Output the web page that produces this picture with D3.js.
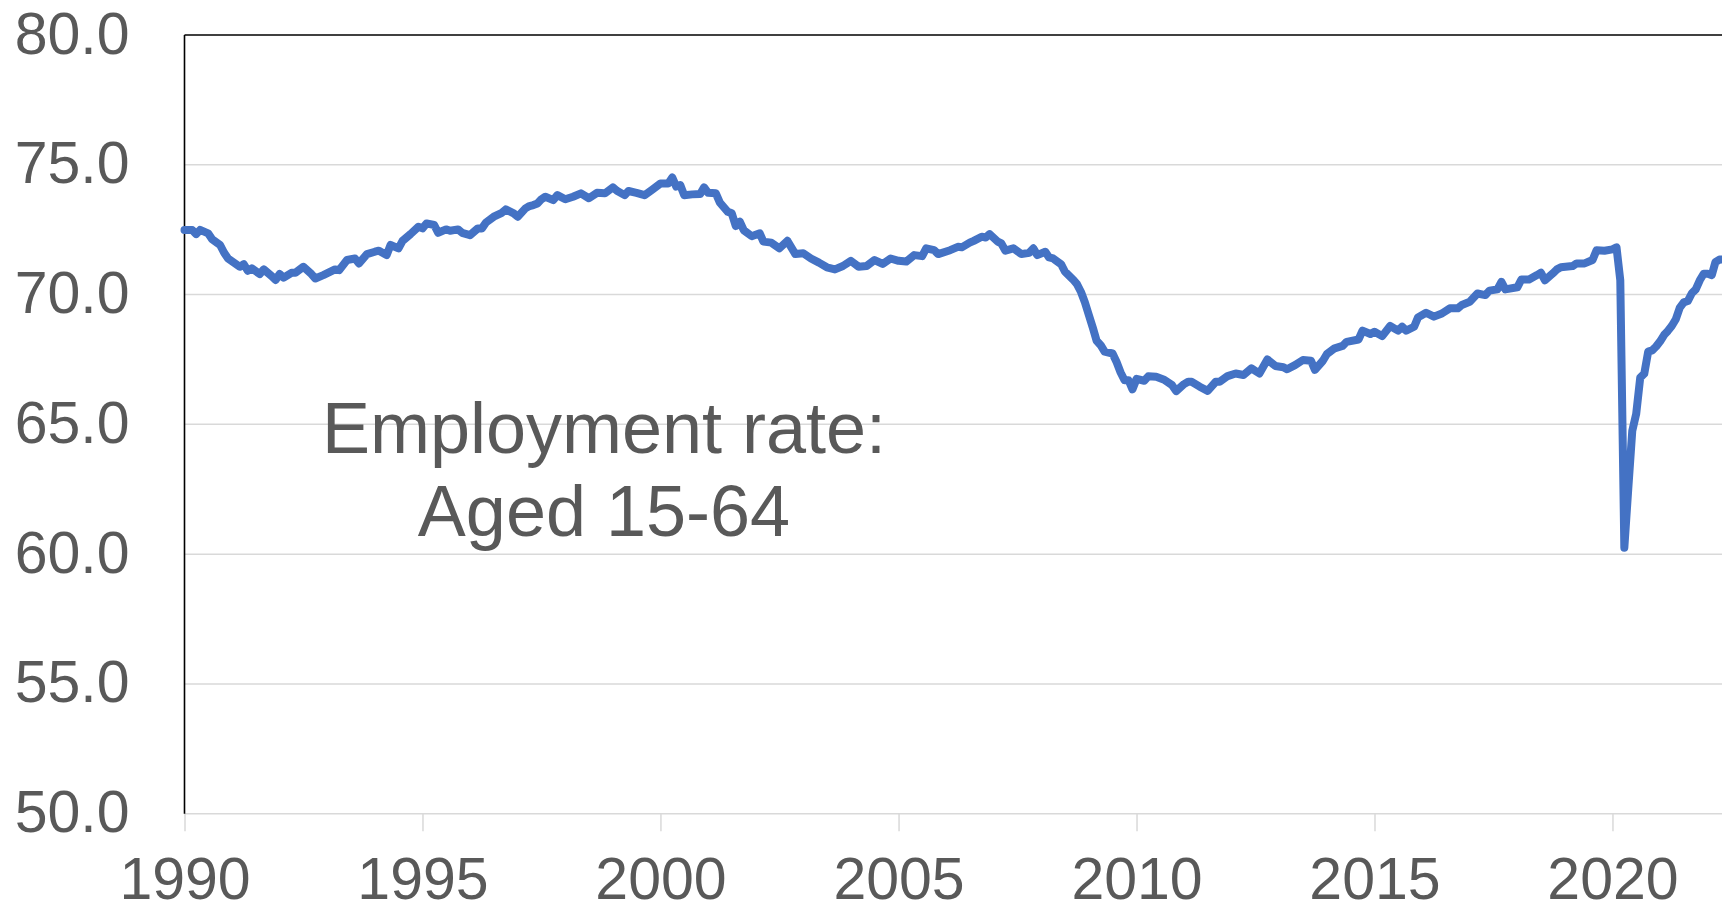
<!DOCTYPE html>
<html>
<head>
<meta charset="utf-8">
<script src="https://cdn.jsdelivr.net/npm/d3@7"></script>
<style>
  html, body { margin: 0; padding: 0; background: #ffffff; overflow: hidden; }
  svg { display: block; font-family: "Liberation Sans", Arial, sans-serif; }
</style>
</head>
<body>
<svg id="chart" width="1722" height="912"></svg>
<script>
// Monthly employment rate, persons aged 15-64 (%)
const months = [
  "1990-01","1990-03","1990-04","1990-05","1990-07","1990-08","1990-10","1990-11","1990-12",
  "1991-03","1991-04","1991-05","1991-06","1991-08","1991-09","1991-11","1991-12",
  "1992-01","1992-02","1992-04","1992-05","1992-07","1992-09","1992-10","1992-12",
  "1993-03","1993-04","1993-06","1993-08","1993-09","1993-11",
  "1994-01","1994-02","1994-04","1994-05","1994-07","1994-08","1994-10","1994-12",
  "1995-01","1995-02","1995-04","1995-05","1995-07","1995-08","1995-10","1995-11",
  "1996-01","1996-03","1996-04","1996-05","1996-07","1996-09","1996-10","1996-12",
  "1997-01","1997-03","1997-04","1997-05","1997-06","1997-07","1997-08","1997-10","1997-11",
  "1998-01","1998-03","1998-05","1998-07","1998-09","1998-11",
  "1999-01","1999-02","1999-04","1999-05","1999-07","1999-09","1999-11",
  "2000-01","2000-03","2000-04","2000-05","2000-06","2000-07","2000-09","2000-11","2000-12",
  "2001-01","2001-03","2001-04","2001-06","2001-07","2001-08","2001-09","2001-10","2001-12",
  "2002-02","2002-03","2002-05","2002-07","2002-09","2002-11",
  "2003-01","2003-03","2003-05","2003-07","2003-09","2003-11",
  "2004-01","2004-03","2004-05","2004-07","2004-09","2004-11",
  "2005-01","2005-03","2005-05","2005-07","2005-08","2005-10","2005-11",
  "2006-02","2006-04","2006-05","2006-07","2006-08","2006-10","2006-11","2006-12",
  "2007-02","2007-03","2007-04","2007-06","2007-08","2007-10","2007-11","2007-12",
  "2008-02","2008-03","2008-04","2008-06","2008-07","2008-09","2008-10","2008-11","2008-12",
  "2009-01","2009-02","2009-03","2009-04","2009-05","2009-07","2009-08","2009-09","2009-10","2009-11","2009-12",
  "2010-01","2010-03","2010-04","2010-06","2010-08","2010-10","2010-11",
  "2011-01","2011-02","2011-03","2011-05","2011-07","2011-09","2011-10","2011-12",
  "2012-02","2012-04","2012-06","2012-08","2012-10","2012-12",
  "2013-02","2013-03","2013-05","2013-07","2013-09","2013-10","2013-12",
  "2014-01","2014-03","2014-05","2014-06","2014-09","2014-10","2014-12",
  "2015-01","2015-03","2015-05","2015-07","2015-08","2015-09","2015-11","2015-12",
  "2016-02","2016-04","2016-06","2016-08","2016-10","2016-11",
  "2017-01","2017-03","2017-05","2017-06","2017-08","2017-09","2017-10",
  "2018-01","2018-02","2018-04","2018-06","2018-07","2018-08","2018-10","2018-11","2018-12",
  "2019-03","2019-04","2019-06","2019-08","2019-09","2019-11",
  "2020-01","2020-02","2020-03","2020-04","2020-05","2020-06","2020-07","2020-08","2020-09","2020-10","2020-11","2020-12",
  "2021-01","2021-02","2021-03","2021-04","2021-05","2021-06","2021-07","2021-08","2021-09","2021-10","2021-11","2021-12",
  "2022-01","2022-02","2022-03","2022-04","2022-05"
];

const rate = [
  72.49,72.49,72.33,72.49,72.36,72.13,71.91,71.61,71.39,
  71.07,71.17,70.92,71.01,70.79,70.97,70.71,70.56,
  70.79,70.65,70.84,70.84,71.07,70.79,70.62,70.75,
  70.97,70.94,71.33,71.39,71.20,71.56,
  71.65,71.69,71.52,71.91,71.78,72.07,72.33,72.61,
  72.55,72.74,72.68,72.38,72.51,72.46,72.51,72.38,
  72.29,72.55,72.55,72.77,73.00,73.15,73.28,73.13,
  73.00,73.32,73.41,73.45,73.51,73.67,73.77,73.64,73.83,
  73.67,73.77,73.90,73.71,73.92,73.90,
  74.13,74.00,73.83,73.99,73.92,73.83,74.05,
  74.28,74.28,74.51,74.16,74.22,73.83,73.86,73.87,74.13,
  73.92,73.90,73.54,73.19,73.13,72.64,72.81,72.48,72.25,
  72.36,72.04,72.00,71.78,72.07,71.56,
  71.59,71.39,71.23,71.05,70.97,71.10,
  71.30,71.07,71.10,71.33,71.18,71.39,
  71.30,71.27,71.52,71.48,71.78,71.71,71.56,
  71.71,71.84,71.82,72.00,72.07,72.23,72.20,72.33,
  72.04,71.97,71.69,71.78,71.56,71.61,71.78,71.52,
  71.65,71.43,71.39,71.17,70.88,70.58,70.40,70.10,69.70,
  69.20,68.70,68.22,68.05,67.80,67.73,67.40,67.00,66.70,66.70,66.35,
  66.75,66.68,66.85,66.83,66.72,66.51,66.28,
  66.55,66.64,66.64,66.45,66.29,66.64,66.64,66.86,
  66.96,66.90,67.16,66.96,67.50,67.25,
  67.20,67.12,67.28,67.48,67.45,67.10,67.45,
  67.71,67.93,68.02,68.18,68.27,68.61,68.48,
  68.57,68.40,68.79,68.61,68.76,68.61,68.76,69.12,
  69.30,69.15,69.27,69.47,69.47,69.60,
  69.72,70.04,69.98,70.15,70.20,70.49,70.20,
  70.28,70.58,70.58,70.75,70.84,70.55,70.82,70.97,71.05,
  71.10,71.20,71.20,71.33,71.71,71.69,
  71.74,71.82,70.55,60.25,62.50,64.75,65.40,66.80,66.95,67.80,67.85,68.00,
  68.20,68.45,68.60,68.80,69.05,69.50,69.70,69.75,70.05,70.20,70.55,70.80,
  70.80,70.75,71.25,71.35,71.35
];

const yTicks = [50, 55, 60, 65, 70, 75, 80];
const xTickYears = [1990, 1995, 2000, 2005, 2010, 2015, 2020];
const noteLines = ["Employment rate:", "Aged 15-64"];

const parseMonth = d3.timeParse("%Y-%m");
const series = months.map((m, i) => ({ date: parseMonth(m), value: rate[i] }));

const svg = d3.select("#chart");
const plotLeft = 184.5, plotTop = 35, plotBottom = 813.7;
const pxPerYear = 47.6;
const startDate = new Date(1990, 0, 1), endDate = new Date(2023, 0, 1);

const x = d3.scaleTime()
  .domain([startDate, endDate])
  .range([plotLeft, plotLeft + 33 * pxPerYear]);
const y = d3.scaleLinear().domain([50, 80]).range([plotBottom, plotTop]);
const plotRight = x.range()[1];

const textColor = "#595959";
const gridColor = "#d9d9d9";

// horizontal gridlines (50 doubles as the category axis line)
svg.append("g")
  .selectAll("line")
  .data(yTicks.filter(v => v < 80))
  .join("line")
  .attr("x1", plotLeft).attr("x2", plotRight)
  .attr("y1", d => y(d)).attr("y2", d => y(d))
  .attr("stroke", gridColor).attr("stroke-width", 1.5);

// x axis ticks and year labels
const xAxis = d3.axisBottom(x)
  .tickValues(xTickYears.map(yr => new Date(yr, 0, 1)))
  .tickFormat(d3.timeFormat("%Y"))
  .tickSize(17.5)
  .tickPadding(0);
const gx = svg.append("g").attr("transform", `translate(0,${plotBottom})`).call(xAxis);
gx.select(".domain").remove();
gx.selectAll(".tick line").attr("stroke", gridColor).attr("stroke-width", 1.5);
gx.selectAll(".tick text")
  .attr("fill", textColor)
  .attr("font-size", 59)
  .attr("font-family", "'Liberation Sans', Arial, sans-serif")
  .attr("dy", null)
  .attr("y", 899 - plotBottom);

// y axis labels
const yAxis = d3.axisLeft(y)
  .tickValues(yTicks)
  .tickFormat(d3.format(".1f"))
  .tickSize(0)
  .tickPadding(55);
const gy = svg.append("g").attr("transform", `translate(${plotLeft},0)`).call(yAxis);
gy.select(".domain").remove();
gy.selectAll(".tick text")
  .attr("fill", textColor)
  .attr("font-size", 59)
  .attr("font-family", "'Liberation Sans', Arial, sans-serif")
  .attr("dy", null)
  .attr("y", 18);

// plot frame: top and left edges
svg.append("line")
  .attr("x1", plotLeft).attr("x2", plotRight)
  .attr("y1", plotTop).attr("y2", plotTop)
  .attr("stroke", "#000").attr("stroke-width", 1.6);
svg.append("line")
  .attr("x1", plotLeft).attr("x2", plotLeft)
  .attr("y1", plotTop).attr("y2", plotBottom)
  .attr("stroke", "#000").attr("stroke-width", 1.6);

// data line
const line = d3.line()
  .x(d => x(d.date))
  .y(d => y(d.value));
svg.append("path")
  .datum(series)
  .attr("d", line)
  .attr("fill", "none")
  .attr("stroke", "#4472C4")
  .attr("stroke-width", 8)
  .attr("stroke-linejoin", "round")
  .attr("stroke-linecap", "round");

// annotation
svg.append("text")
  .attr("x", 604)
  .attr("y", 452.5)
  .attr("text-anchor", "middle")
  .attr("fill", textColor)
  .attr("font-size", 72)
  .selectAll("tspan")
  .data(noteLines)
  .join("tspan")
  .attr("x", 604)
  .attr("dy", (d, i) => i === 0 ? 0 : 83)
  .text(d => d);
</script>
</body>
</html>
